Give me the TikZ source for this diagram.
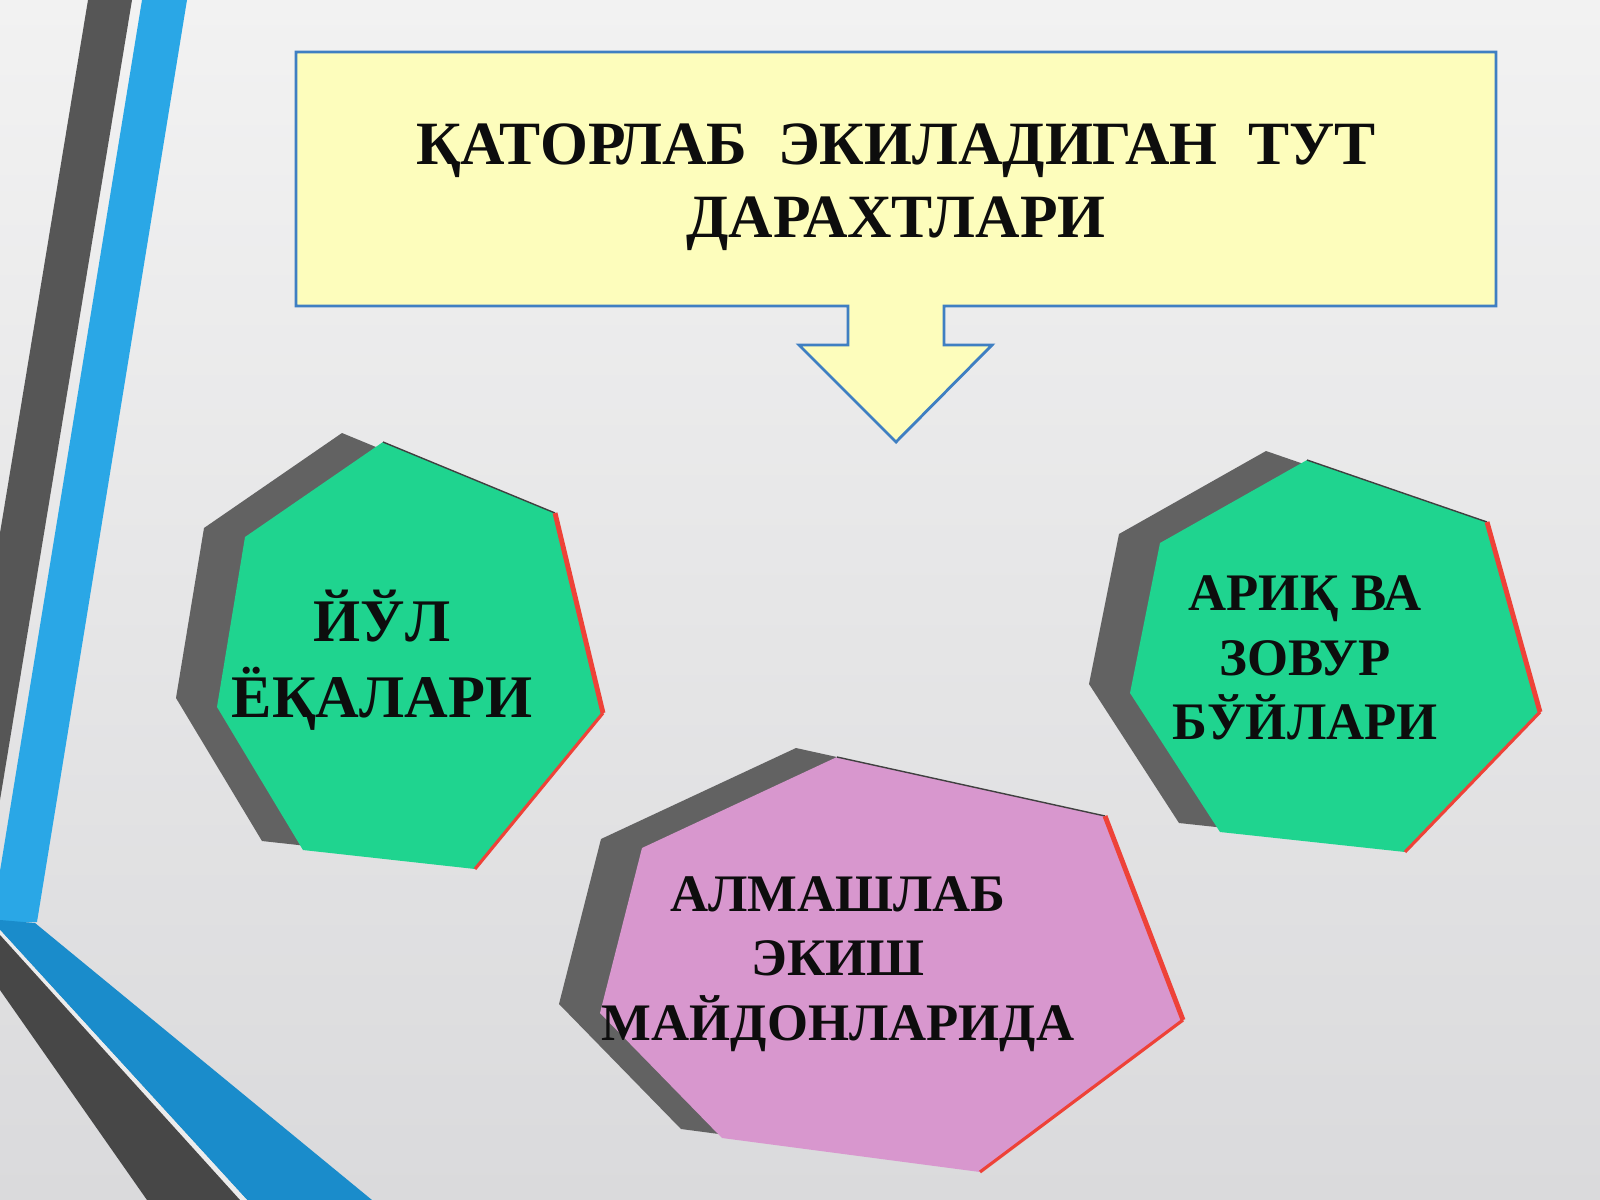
\documentclass[tikz,border=0pt]{standalone}
\usepackage{fontspec}
\setmainfont{Liberation Serif}
\usepackage{xcolor}
\usetikzlibrary{positioning}
\definecolor{bgtop}{HTML}{F2F2F2}
\definecolor{bgbot}{HTML}{DADADC}
\definecolor{stripegray}{HTML}{565656}
\definecolor{bandgray}{HTML}{474747}
\definecolor{stripeblue}{HTML}{2AA7E6}
\definecolor{bandblue}{HTML}{1A8CCB}
\definecolor{boxyellow}{HTML}{FDFDBC}
\definecolor{boxline}{HTML}{3F7FC2}
\definecolor{leafgreen}{HTML}{1FD48F}
\definecolor{plum}{HTML}{D897CE}
\definecolor{shadowgray}{HTML}{626262}
\definecolor{edgered}{HTML}{EE4238}

\begin{document}
\begin{tikzpicture}[x = 0.01cm, y = -0.01cm,
  every node/.style = {align = center, text = black!95},
  title/.style = {font = \fontsize{17.5}{20.8}\selectfont\bfseries},
  big/.style = {font = \fontsize{17.2}{21.6}\selectfont\bfseries},
  small/.style = {font = \fontsize{15}{18.3}\selectfont\bfseries},
  drop/.style = {fill = shadowgray, transform canvas = {shift = {(-41,-9)}}}
]
\useasboundingbox (0,0) rectangle (1600,1200);
\shade[top color = bgtop, bottom color = bgbot] (0,0) rectangle (1600,1200);

\fill[stripegray] (88,0) -- (132,0) -- (0,800) -- (0,533) -- cycle;
\fill[stripeblue] (142,0) -- (187,0) -- (37,922) -- (0,922) -- (0,871) -- cycle;
\fill[bandblue] (0,920) -- (35,923) -- (372,1200) -- (247,1200) -- (0,930) -- cycle;
\fill[white!85!gray] (0,930) -- (247,1200) -- (240,1200) -- (0,935) -- cycle;
\fill[bandgray] (0,935) -- (240,1200) -- (147,1200) -- (0,990) -- cycle;

\draw[boxline, fill = boxyellow, line width = 0.8pt]
  (296,52) -| (1496,306) -- (944,306) -- (944,345) -- (992,345) -- (896,442)
  -- (799,345) -- (848,345) -- (848,306) -- (296,306) -- cycle;

\path (383,442) coordinate (l1) (555,513) coordinate (l2) (603,713) coordinate (l3)
  (475,869) coordinate (l4) (303,850) coordinate (l5) (217,707) coordinate (l6)
  (245,537) coordinate (l7);
\path (1307,460) coordinate (r1) (1487,522) coordinate (r2) (1540,712) coordinate (r3)
  (1405,852) coordinate (r4) (1220,832) coordinate (r5) (1130,693) coordinate (r6)
  (1160,543) coordinate (r7);
\path (837,757) coordinate (b1) (1105,816) coordinate (b2) (1183,1020) coordinate (b3)
  (980,1172) coordinate (b4) (722,1138) coordinate (b5) (600,1013) coordinate (b6)
  (642,848) coordinate (b7);

\foreach \g/\c in {l/leafgreen, r/leafgreen, b/plum} {
  \fill[drop] (\g1) -- (\g2) -- (\g3) -- (\g4) -- (\g5) -- (\g6) -- (\g7) -- cycle;
  \fill[\c] (\g1) -- (\g2) -- (\g3) -- (\g4) -- (\g5) -- (\g6) -- (\g7) -- cycle;
  \draw[black!75, line width = 0.4pt] (\g1) -- (\g2);
  \draw[edgered, line width = 1.4pt] (\g2) -- (\g3);
  \draw[edgered, line width = 0.9pt] (\g3) -- (\g4);
}

\node[title] (trees) at (896,187) {ҚАТОРЛАБ\ \ ЭКИЛАДИГАН\ \ ТУТ\\ДАРАХТЛАРИ};
\node[big] (road) at (382,660) {ЙЎЛ\\ЁҚАЛАРИ};
\node[small] (ditch) at (1305,658) {АРИҚ ВА\\ЗОВУР\\БЎЙЛАРИ};
\node[small] (field) at (838,964) {АЛМАШЛАБ\\ЭКИШ\\МАЙДОНЛАРИДА};
\end{tikzpicture}
\end{document}
